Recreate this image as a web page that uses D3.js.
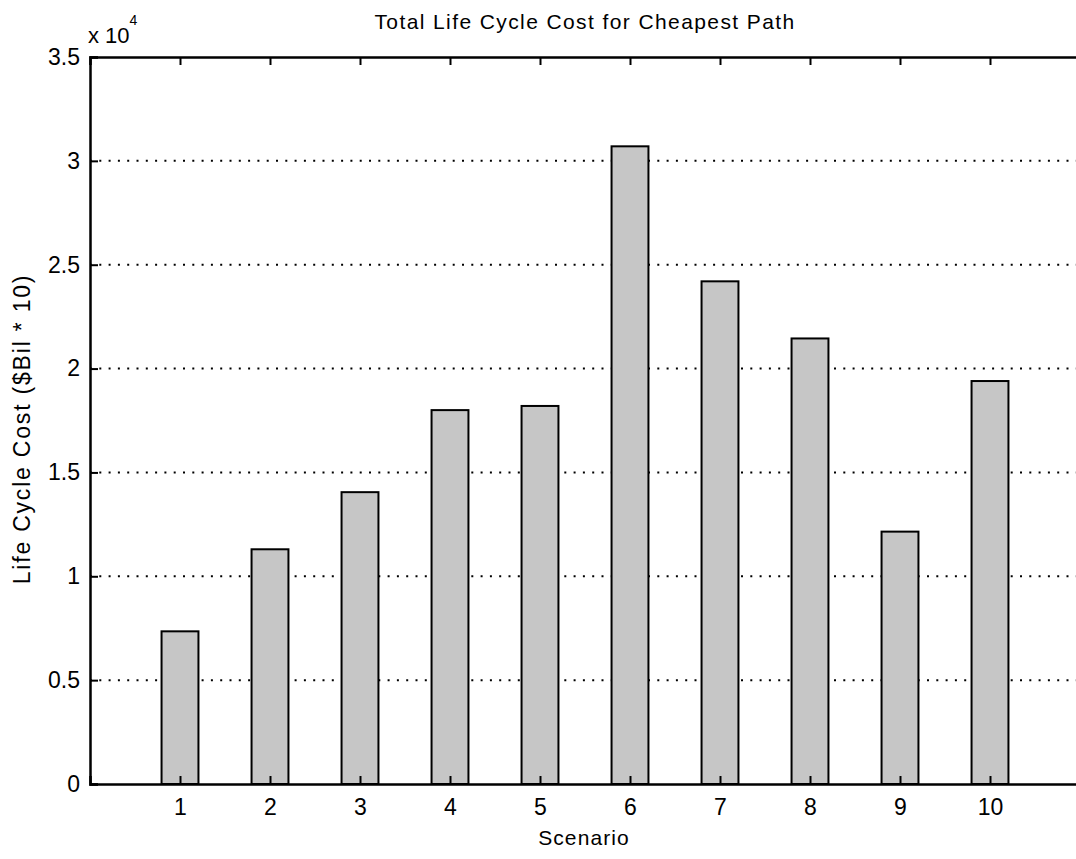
<html>
<head>
<script src="https://d3js.org/d3.v7.min.js"></script>
<style>
  body { margin: 0; background: #fff; }
  text { font-family: "Liberation Sans", Arial, sans-serif; fill: #000; }
</style>
</head>
<body>
<svg id="chart" width="1076" height="859"></svg>
<script>
const scenarios = [1, 2, 3, 4, 5, 6, 7, 8, 9, 10];
const lifeCycleCost = [7350, 11300, 14050, 18000, 18200, 30700, 24200, 21450, 12150, 19400];
const yTicks = [0, 5000, 10000, 15000, 20000, 25000, 30000, 35000];
const yTickLabels = ["0", "0.5", "1", "1.5", "2", "2.5", "3", "3.5"];

const svg = d3.select("svg#chart");
const margins = {"top": 57, "right": -4, "bottom": 75, "left": 90};
const width = +svg.attr("width");
const height = +svg.attr("height");
const chartWidth = width - margins.left - margins.right;
const chartHeight = height - margins.top - margins.bottom;

const xScale = d3.scaleLinear().domain([0, 11]).range([0, chartWidth]);
const yScale = d3.scaleLinear().domain([0, 35000]).range([chartHeight, 0]);
const barWidth = xScale(0.41) - xScale(0);

const chart = svg.append("g")
  .attr("transform", "translate(" + margins.left + "," + margins.top + ")");

// dotted gridlines
chart.selectAll("line.grid").data(yTicks.slice(1, -1))
  .join("line").attr("class", "grid")
  .attr("x1", 0).attr("x2", chartWidth)
  .attr("y1", d => yScale(d)).attr("y2", d => yScale(d))
  .attr("stroke", "#000").attr("stroke-width", 2)
  .attr("stroke-dasharray", "2,7.3");

// bars
chart.selectAll("rect.bar").data(scenarios)
  .join("rect").attr("class", "bar")
  .attr("x", (d, i) => xScale(d) - barWidth / 2)
  .attr("y", (d, i) => yScale(lifeCycleCost[i]))
  .attr("width", barWidth)
  .attr("height", (d, i) => chartHeight - yScale(lifeCycleCost[i]))
  .attr("fill", "#c6c6c6")
  .attr("stroke", "#000").attr("stroke-width", 2);

// axes
const leftAxis = d3.axisLeft(yScale).tickValues(yTicks)
  .tickFormat((d, i) => yTickLabels[i]).tickSize(-8).tickPadding(10);
const bottomAxis = d3.axisBottom(xScale).tickValues(scenarios)
  .tickSize(-8).tickPadding(15);
const topAxis = d3.axisTop(xScale).tickValues(scenarios)
  .tickSize(-8).tickFormat("");

function styleAxis(g) {
  g.select(".domain").attr("stroke-width", 2.5);
  g.selectAll(".tick line").attr("stroke-width", 2);
  g.selectAll(".tick text").style("font-size", "23px")
    .style("font-family", "'Liberation Sans', Arial, sans-serif");
}

chart.append("g").call(leftAxis).call(styleAxis);
chart.append("g").attr("transform", "translate(0," + chartHeight + ")")
  .call(bottomAxis).call(styleAxis);
chart.append("g").call(topAxis).call(styleAxis);

// labels
svg.append("text")
  .attr("x", 585).attr("y", 29)
  .attr("text-anchor", "middle").style("font-size", "21px")
  .style("letter-spacing", "1.4px")
  .text("Total Life Cycle Cost for Cheapest Path");

svg.append("text")
  .attr("x", 584).attr("y", 845)
  .attr("text-anchor", "middle").style("font-size", "21px")
  .style("letter-spacing", "1.1px")
  .text("Scenario");

svg.append("text")
  .attr("transform", "translate(30,429) rotate(-90)")
  .attr("text-anchor", "middle").style("font-size", "23px")
  .style("letter-spacing", "1.8px")
  .text("Life Cycle Cost ($Bil * 10)");

const expo = svg.append("text").attr("x", 88).attr("y", 43).style("font-size", "22px");
expo.append("tspan").text("x 10");
expo.append("tspan").attr("dy", -18).style("font-size", "14px").text("4");
</script>
</body>
</html>
